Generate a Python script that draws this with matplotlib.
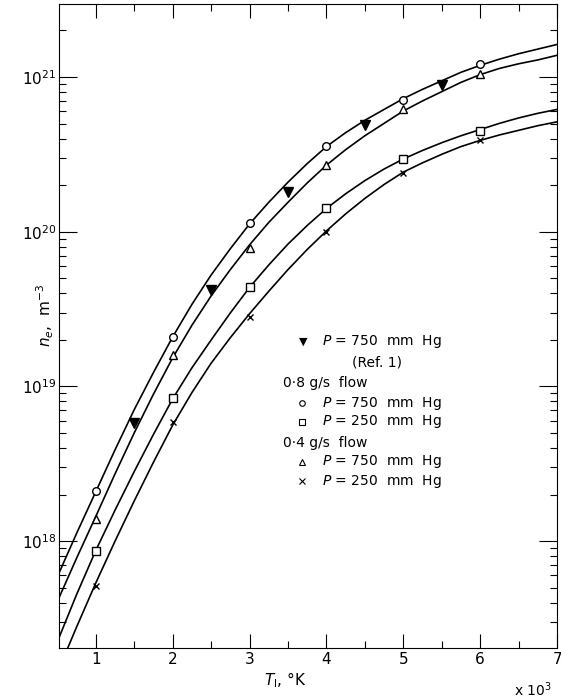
import numpy as np
import matplotlib
matplotlib.use("Agg")
import matplotlib.pyplot as plt
from matplotlib.ticker import MultipleLocator, LogLocator, NullFormatter

plt.rcParams['font.family'] = ['DejaVu Sans']
plt.rcParams['mathtext.fontset'] = 'dejavusans'

# measured points, T in units of 10^3 K, n_e in m^-3
T_meas = [1, 2, 3, 4, 5, 6]
ne_08_750 = [2.1e18, 2.1e19, 1.13e20, 3.6e20, 7.1e20, 1.21e21]   # circles
ne_08_250 = [8.7e17, 8.4e18, 4.4e19, 1.43e20, 2.96e20, 4.5e20]   # squares
ne_04_750 = [1.4e18, 1.6e19, 7.8e19, 2.7e20, 6.2e20, 1.05e21]    # triangles
ne_04_250 = [5.1e17, 5.9e18, 2.8e19, 1.0e20, 2.4e20, 3.9e20]     # crosses

# Ref. 1 values (filled triangles)
T_ref = [1.5, 2.5, 3.5, 4.5, 5.5]
ne_ref = [5.8e18, 4.2e19, 1.8e20, 4.9e20, 8.9e20]

# drawn curves, as log10(n_e)
T_curve = [0.5, 0.75, 1.0, 1.25, 1.5, 1.75, 2.0, 2.25, 2.5, 2.75, 3.0, 3.25,
           3.5, 3.75, 4.0, 4.25, 4.5, 4.75, 5.0, 5.25, 5.5, 5.75, 6.0, 6.25,
           6.5, 6.75, 7.0]
lg_08_750 = [17.77, 18.05, 18.32, 18.59, 18.85, 19.09, 19.32, 19.53, 19.72,
             19.89, 20.05, 20.19, 20.32, 20.44, 20.55, 20.64, 20.72, 20.79,
             20.86, 20.92, 20.975, 21.03, 21.075, 21.115, 21.15, 21.18, 21.21]
lg_04_750 = [17.61, 17.89, 18.16, 18.435, 18.70, 18.95, 19.185, 19.395, 19.585,
             19.755, 19.915, 20.06, 20.19, 20.315, 20.43, 20.53, 20.62, 20.70,
             20.78, 20.845, 20.905, 20.965, 21.015, 21.055, 21.085, 21.11, 21.14]
lg_08_250 = [17.35, 17.655, 17.94, 18.20, 18.45, 18.69, 18.92, 19.12, 19.30,
             19.475, 19.64, 19.785, 19.92, 20.04, 20.15, 20.245, 20.33, 20.405,
             20.47, 20.525, 20.575, 20.62, 20.66, 20.70, 20.735, 20.765, 20.79]
lg_04_250 = [17.15, 17.445, 17.73, 18.00, 18.26, 18.51, 18.75, 18.96, 19.15,
             19.315, 19.47, 19.615, 19.755, 19.885, 20.005, 20.115, 20.215,
             20.305, 20.385, 20.445, 20.50, 20.55, 20.59, 20.625, 20.655,
             20.685, 20.71]

fig = plt.figure(figsize=(5.61, 6.99), dpi=100)
ax = fig.add_axes([0.105, 0.073, 0.888, 0.9206])

for lg in [lg_08_750, lg_04_750, lg_08_250, lg_04_250]:
    ax.plot(T_curve, 10.0 ** np.array(lg), color='black', lw=1.2, zorder=2)

mk = dict(color='black', ls='none', zorder=3, mfc='white', mec='black', mew=1.0)
ax.plot(T_meas, ne_08_750, marker='o', ms=5.5, **mk)
ax.plot(T_meas, ne_08_250, marker='s', ms=5.5, **mk)
ax.plot(T_meas, ne_04_750, marker='^', ms=6, **mk)
ax.plot(T_meas, ne_04_250, marker='x', ms=5, ls='none', color='black', mew=1.0, zorder=3)
ax.plot(T_ref, ne_ref, marker='v', ms=6.5, ls='none', color='black', zorder=3)

ax.set_yscale('log')
ax.set_xlim(0.52, 7)
ax.set_ylim(2.04e17, 2.94e21)

ax.xaxis.set_major_locator(MultipleLocator(1))
ax.xaxis.set_minor_locator(MultipleLocator(0.5))
ax.yaxis.set_major_locator(LogLocator(base=10))
ax.yaxis.set_minor_locator(LogLocator(base=10, subs=np.arange(2, 10)))
ax.yaxis.set_minor_formatter(NullFormatter())

ax.tick_params(which='both', direction='in', top=True, right=True,
               labelsize=11, width=0.8)
ax.tick_params(axis='y', which='major', length=13, pad=2)
ax.tick_params(axis='y', which='minor', length=5)
ax.tick_params(axis='x', which='major', length=10, pad=3)
ax.tick_params(axis='x', which='minor', length=5)
for s in ax.spines.values():
    s.set_linewidth(0.8)


def fy(y):
    return 1 - y / 699


# axis labels
fig.text(285 / 561, fy(680), r'$T_{\rm I}$, °K', fontsize=11,
         ha='center', va='center')
fig.text(45 / 561, fy(315), r'$n_e$,  m$^{-3}$', fontsize=11,
         ha='center', va='center', rotation=90)
fig.text(552 / 561, fy(690), r'x 10$^3$', fontsize=10,
         ha='right', va='center')

# legend written as a text block
fs = 10
fig.text(303 / 561, fy(342), '▼', fontsize=8, ha='center', va='center')
fig.text(322 / 561, fy(342), r'$P$ = 750  mm  Hg', fontsize=fs, va='center')
fig.text(352 / 561, fy(362), '(Ref. 1)', fontsize=fs, va='center')
fig.text(283 / 561, fy(383), '0·8 g/s  flow', fontsize=fs, va='center')
for y, m in [(403, 'o'), (422, 's'), (462, '^'), (481, 'x')]:
    fig.add_artist(plt.Line2D([302 / 561], [fy(y)], marker=m, ms=4,
                              mfc='white', mec='black', mew=0.8,
                              color='black', ls='none',
                              transform=fig.transFigure))
fig.text(322 / 561, fy(403), r'$P$ = 750  mm  Hg', fontsize=fs, va='center')
fig.text(322 / 561, fy(422), r'$P$ = 250  mm  Hg', fontsize=fs, va='center')
fig.text(283 / 561, fy(443), '0·4 g/s  flow', fontsize=fs, va='center')
fig.text(322 / 561, fy(462), r'$P$ = 750  mm  Hg', fontsize=fs, va='center')
fig.text(322 / 561, fy(481), r'$P$ = 250  mm  Hg', fontsize=fs, va='center')

fig.savefig('out.png', dpi=100)
